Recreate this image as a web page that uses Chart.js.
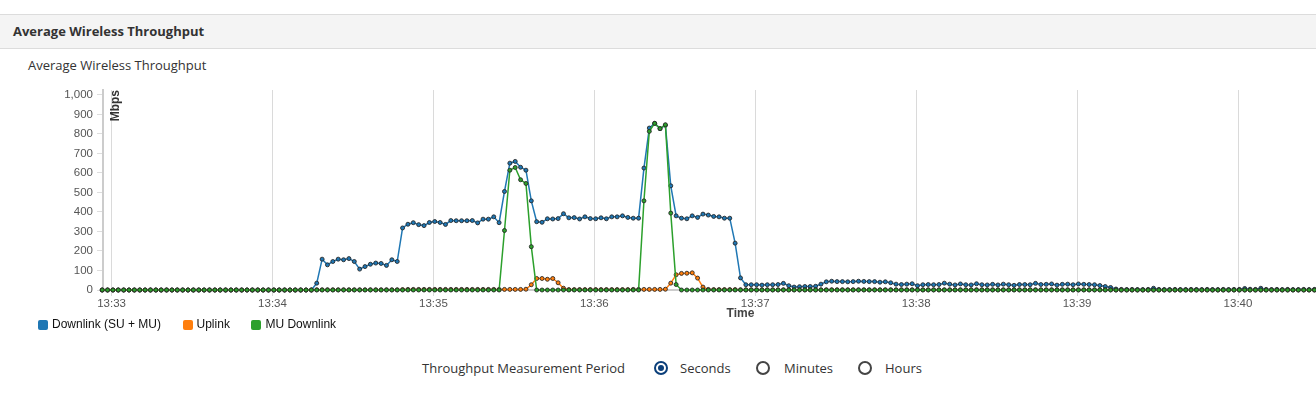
<!DOCTYPE html>
<html>
<head>
<meta charset="utf-8">
<title>Average Wireless Throughput</title>
<script src="https://cdn.jsdelivr.net/npm/chart.js@4.4.1/dist/chart.umd.min.js"></script>
<style>
    html, body { margin: 0; padding: 0; width: 1316px; height: 398px; overflow: hidden; background: #fff; }
    body { position: relative; font-family: 'Open Sans', sans-serif; color: #333; }
    .panel-head { position: absolute; left: 0; top: 14px; width: 1316px; height: 33px; background: #f4f4f4;
        border-top: 1px solid #dcdcdc; border-bottom: 1px solid #dcdcdc; }
    .panel-title { position: absolute; left: 13px; top: 22px; font-size: 13px; line-height: 18px; font-weight: bold; color: #333; }
    .sub-title { position: absolute; left: 28px; top: 56px; font-size: 13px; line-height: 18px; color: #333; }
    #chartBox { position: absolute; left: 0; top: 79px; width: 1383px; height: 242px; }
    #legend { position: absolute; left: 38px; top: 318px; display: flex; font-family: 'Liberation Sans', Arial, sans-serif; font-size: 12px; line-height: 13px; color: #111; }
    #legend .item { display: flex; align-items: center; margin-right: 21.5px; }
    #legend .box { width: 10px; height: 10px; border-radius: 2px; margin-right: 4px; }
    .period { position: absolute; top: 359px; font-size: 13px; line-height: 18px; color: #333; }
    .radio { position: absolute; top: 361px; width: 10px; height: 10px; border: 2px solid #444; border-radius: 50%; }
    .radio.on { border-color: #0b3f7a; }
    .radio.on::after { content: ''; position: absolute; left: 2px; top: 2px; width: 6px; height: 6px; border-radius: 50%; background: #0b3f7a; }
</style>
</head>
<body>
<div class="panel-head"></div>
<div class="panel-title">Average Wireless Throughput</div>
<div class="sub-title">Average Wireless Throughput</div>
<div id="chartBox"><canvas id="throughputChart" width="1383" height="242"></canvas></div>
<div id="legend"></div>
<div class="period" style="left:422px">Throughput Measurement Period</div>
<div class="radio on" style="left:654px"></div>
<div class="period" style="left:680px">Seconds</div>
<div class="radio" style="left:756px"></div>
<div class="period" style="left:784px">Minutes</div>
<div class="radio" style="left:858px"></div>
<div class="period" style="left:885px">Hours</div>

<script>
// samples every 2 s, first one a little before 13:33 (seconds from 13:33:00)
const sampleStart = -3.5;
const sampleStep = 2;

const minuteTicks = [0, 60, 120, 180, 240, 300, 360, 420];
const tickLabels = ['13:33', '13:34', '13:35', '13:36', '13:37', '13:38', '13:39', '13:40'];
const yTicks = [0, 100, 200, 300, 400, 500, 600, 700, 800, 900, 1000];

const seriesNames = ['Downlink (SU + MU)', 'Uplink', 'MU Downlink'];
const seriesColors = ['#1f77b4', '#ff7f0e', '#2ca02c'];

// Mbps
const downlink = [
    0, 0, 0, 0, 0, 0, 0, 0, 0, 0,
    0, 0, 0, 0, 0, 0, 0, 0, 0, 0,
    0, 0, 0, 0, 0, 0, 0, 0, 0, 0,
    0, 0, 0, 0, 0, 0, 0, 0, 0, 0,
    35, 158, 129, 146, 158, 155, 161, 146, 107, 120,
    132, 138, 136, 126, 155, 146, 318, 337, 345, 335,
    330, 346, 351, 346, 336, 356, 355, 355, 355, 356,
    344, 363, 363, 375, 345, 505, 650, 659, 629, 614,
    457, 350, 347, 365, 364, 366, 391, 370, 371, 364,
    375, 366, 365, 370, 365, 375, 375, 380, 372, 368,
    368, 625, 830, 854, 827, 844, 534, 380, 368, 365,
    380, 372, 389, 384, 377, 375, 368, 368, 240, 62,
    27, 27, 27, 25, 27, 27, 28, 34, 22, 15,
    17, 18, 18, 19, 30, 42, 45, 43, 43, 42,
    43, 45, 44, 43, 43, 40, 42, 37, 30, 28,
    30, 32, 22, 27, 28, 27, 28, 35, 30, 26,
    31, 27, 26, 32, 27, 26, 29, 26, 30, 27,
    24, 28, 28, 27, 34, 28, 29, 31, 25, 29,
    30, 27, 31, 29, 28, 27, 23, 18, 13, 5,
    3, 2, 3, 2, 2, 3, 9, 3, 2, 2,
    3, 2, 2, 3, 2, 2, 3, 2, 2, 3,
    2, 3, 3, 8, 4, 3, 9, 3, 2, 3,
    2, 3, 2, 2, 3, 2, 3, 2
];

const uplink = [
    0, 0, 0, 0, 0, 0, 0, 0, 0, 0,
    0, 0, 0, 0, 0, 0, 0, 0, 0, 0,
    0, 0, 0, 0, 0, 0, 0, 0, 0, 0,
    0, 0, 0, 0, 0, 0, 0, 0, 0, 0,
    1, 1, 1, 1, 1, 1, 1, 1, 1, 1,
    1, 1, 1, 1, 1, 1, 2, 3, 3, 3,
    3, 3, 3, 3, 3, 3, 3, 3, 3, 3,
    3, 3, 3, 3, 3, 3, 3, 3, 3, 4,
    27, 59, 59, 55, 59, 37, 9, 2, 2, 2,
    2, 2, 2, 2, 2, 2, 2, 2, 2, 3,
    3, 3, 3, 3, 3, 4, 35, 78, 85, 86,
    88, 61, 15, 3, 2, 2, 2, 2, 2, 1,
    1, 1, 1, 1, 1, 1, 1, 1, 1, 1,
    1, 1, 1, 1, 1, 1, 1, 1, 1, 1,
    1, 1, 1, 1, 1, 1, 1, 1, 1, 1,
    1, 1, 1, 1, 1, 1, 1, 1, 1, 1,
    1, 1, 1, 1, 1, 1, 1, 1, 1, 1,
    1, 1, 1, 1, 1, 1, 1, 1, 1, 1,
    1, 1, 1, 1, 1, 1, 1, 1, 1, 0,
    0, 0, 0, 0, 0, 0, 0, 0, 0, 0,
    0, 0, 0, 0, 0, 0, 0, 0, 0, 0,
    0, 0, 0, 0, 0, 0, 0, 0, 0, 0,
    0, 0, 0, 0, 0, 0, 0, 0
];

const muDownlink = [
    0, 0, 0, 0, 0, 0, 0, 0, 0, 0,
    0, 0, 0, 0, 0, 0, 0, 0, 0, 0,
    0, 0, 0, 0, 0, 0, 0, 0, 0, 0,
    0, 0, 0, 0, 0, 0, 0, 0, 0, 0,
    0, 0, 0, 0, 0, 0, 0, 0, 0, 0,
    0, 0, 0, 0, 0, 0, 0, 0, 0, 0,
    0, 0, 0, 0, 0, 0, 0, 0, 0, 0,
    0, 0, 0, 0, 0, 305, 614, 628, 565, 546,
    222, 0, 0, 0, 0, 0, 0, 0, 0, 0,
    0, 0, 0, 0, 0, 0, 0, 0, 0, 0,
    0, 457, 813, 854, 827, 847, 394, 28, 0, 0,
    0, 0, 0, 0, 0, 0, 0, 0, 0, 0,
    0, 0, 0, 0, 0, 0, 0, 0, 0, 0,
    0, 0, 0, 0, 0, 0, 0, 0, 0, 0,
    0, 0, 0, 0, 0, 0, 0, 0, 0, 0,
    0, 0, 0, 0, 0, 0, 0, 0, 0, 0,
    0, 0, 0, 0, 0, 0, 0, 0, 0, 0,
    0, 0, 0, 0, 0, 0, 0, 0, 0, 0,
    0, 0, 0, 0, 0, 0, 0, 0, 0, 0,
    0, 0, 0, 0, 0, 0, 0, 0, 0, 0,
    0, 0, 0, 0, 0, 0, 0, 0, 0, 0,
    0, 0, 0, 0, 0, 0, 0, 0, 0, 0,
    0, 0, 0, 0, 0, 0, 0, 0
];

const toPoints = values => values.map((v, i) => ({ x: sampleStart + i * sampleStep, y: v }));

const makeDataset = (index, values, order) => ({
    label: seriesNames[index],
    data: toPoints(values),
    borderColor: seriesColors[index],
    backgroundColor: seriesColors[index],
    pointBackgroundColor: seriesColors[index],
    pointBorderColor: 'rgba(35,35,35,0.85)',
    pointBorderWidth: 1,
    pointRadius: 2,
    borderWidth: 1.5,
    tension: 0,
    order: order,
    clip: false
});

// y axis label sits inside the plot, next to the axis
const mbpsLabel = {
    id: 'mbpsLabel',
    afterDraw(chart) {
        const ctx = chart.ctx;
        const area = chart.chartArea;
        ctx.save();
        ctx.translate(area.left + 7, area.top);
        ctx.rotate(-Math.PI / 2);
        ctx.font = 'bold 12px "Liberation Sans", Arial, sans-serif';
        ctx.fillStyle = '#333';
        ctx.textAlign = 'right';
        ctx.textBaseline = 'top';
        ctx.fillText('Mbps', 0, 0);
        ctx.restore();
    }
};

Chart.defaults.font.family = '"Liberation Sans", Arial, sans-serif';

const chart = new Chart(document.getElementById('throughputChart'), {
    type: 'line',
    data: {
        datasets: [
            makeDataset(0, downlink, 3),
            makeDataset(1, uplink, 2),
            makeDataset(2, muDownlink, 1)
        ]
    },
    options: {
        responsive: false,
        animation: false,
        devicePixelRatio: 1,
        layout: { padding: { top: 11, left: 0, right: 0, bottom: 0 } },
        plugins: {
            legend: { display: false },
            tooltip: { enabled: false }
        },
        scales: {
            x: {
                type: 'linear',
                min: -3.2,
                max: 472.2,
                afterBuildTicks: scale => { scale.ticks = minuteTicks.map(v => ({ value: v })); },
                afterFit: scale => { scale.height = 31; },
                ticks: {
                    autoSkip: false,
                    maxRotation: 0,
                    padding: 1,
                    color: '#555',
                    font: { size: 11.5 },
                    callback: value => tickLabels[minuteTicks.indexOf(value)]
                },
                grid: { color: '#dadada', lineWidth: 1, tickLength: 6 },
                border: { color: '#cccccc', width: 2 },
                title: {
                    display: true,
                    text: 'Time',
                    color: '#444',
                    font: { size: 12, weight: 'bold' },
                    padding: { top: 0, bottom: 0 }
                }
            },
            y: {
                min: 0,
                max: 1025,
                afterBuildTicks: scale => { scale.ticks = yTicks.map(v => ({ value: v })); },
                afterFit: scale => { scale.width = 103; },
                ticks: { padding: 4, color: '#555', font: { size: 11.5 } },
                grid: { drawOnChartArea: false, color: '#dddddd', tickLength: 6 },
                border: { color: '#cccccc', width: 2 }
            }
        }
    },
    plugins: [mbpsLabel]
});

// html legend in dataset order
const legendEl = document.getElementById('legend');
chart.data.datasets.forEach(ds => {
    const item = document.createElement('div');
    item.className = 'item';
    item.innerHTML = `<span class="box" style="background:${ds.borderColor}"></span><span>${ds.label}</span>`;
    legendEl.appendChild(item);
});
</script>
</body>
</html>
